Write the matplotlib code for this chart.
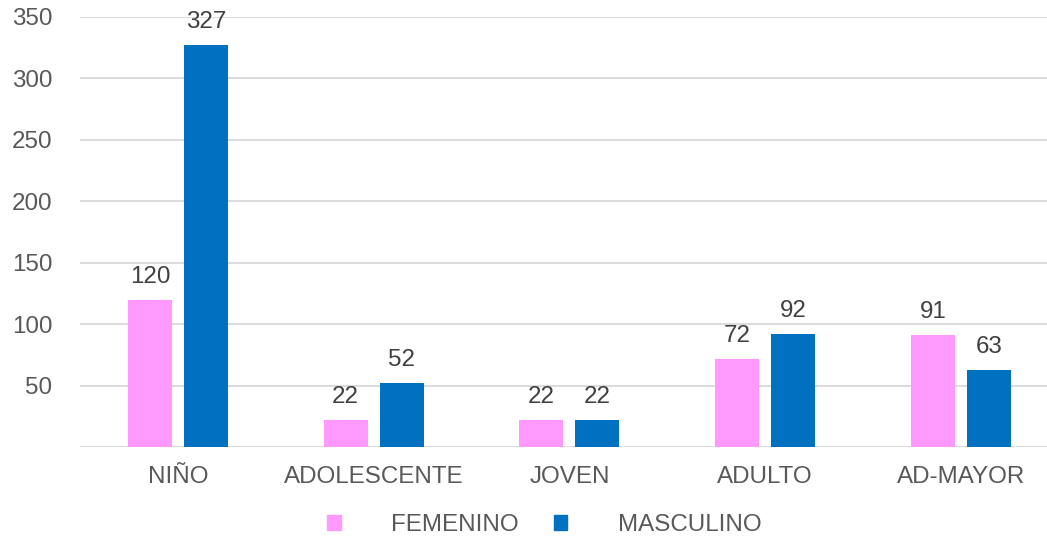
import numpy as np
import matplotlib
matplotlib.use('Agg')
import matplotlib.pyplot as plt
from matplotlib.patches import Patch

#========= Data ===========
categorias = ['NIÑO', 'ADOLESCENTE', 'JOVEN', 'ADULTO', 'AD-MAYOR']
femenino   = [120, 22, 22, 72, 91]
masculino  = [327, 52, 22, 92, 63]
yticks     = [0, 50, 100, 150, 200, 250, 300, 350]

col_fem  = '#FF99FF'
col_masc = '#0070C0'
txt      = '#595959'
grid     = '#D9D9D9'

plt.rcParams['font.family'] = ['Liberation Sans', 'DejaVu Sans']
fs = 17.4

fig = plt.figure(figsize=(10.47, 5.39), dpi=100)
# the plot area runs a bit past the right edge, as in the original
ax = fig.add_axes([0.0764, 0.1707, 0.935, 0.7978])

x = np.arange(len(categorias))
w = 0.225
off = 0.143
b1 = ax.bar(x - off, femenino, w, color=col_fem, zorder=3)
b2 = ax.bar(x + off, masculino, w, color=col_masc, zorder=3)

for bars, vals in ((b1, femenino), (b2, masculino)):
    for b, v in zip(bars, vals):
        ax.annotate('%d' % v, (b.get_x() + b.get_width()/2, v),
                    xytext=(0, 8.5), textcoords='offset points',
                    ha='center', va='bottom', fontsize=fs, color='#404040')

ax.set_xlim(-0.5, len(categorias) - 0.5)
ax.set_ylim(0, 350)
ax.set_yticks(yticks)
ax.set_yticklabels([''] + [str(t) for t in yticks[1:]])
ax.set_xticks(x)
ax.set_xticklabels(categorias)
ax.tick_params(axis='both', length=0, labelsize=fs, colors=txt)
ax.tick_params(axis='y', pad=20)
ax.tick_params(axis='x', pad=14)
ax.grid(axis='y', color=grid, linewidth=1.3, zorder=0)
for s in ax.spines.values():
    s.set_visible(False)

handles = [Patch(color=col_fem, label='FEMENINO'),
           Patch(color=col_masc, label='MASCULINO')]
leg = fig.legend(handles=handles, loc='center', bbox_to_anchor=(0.52, 0.026),
                 ncol=2, frameon=False, fontsize=fs, handlelength=0.55,
                 handleheight=0.55, handletextpad=2.1, columnspacing=1.45)
for t in leg.get_texts():
    t.set_color(txt)

fig.savefig('out.png', dpi=100)
